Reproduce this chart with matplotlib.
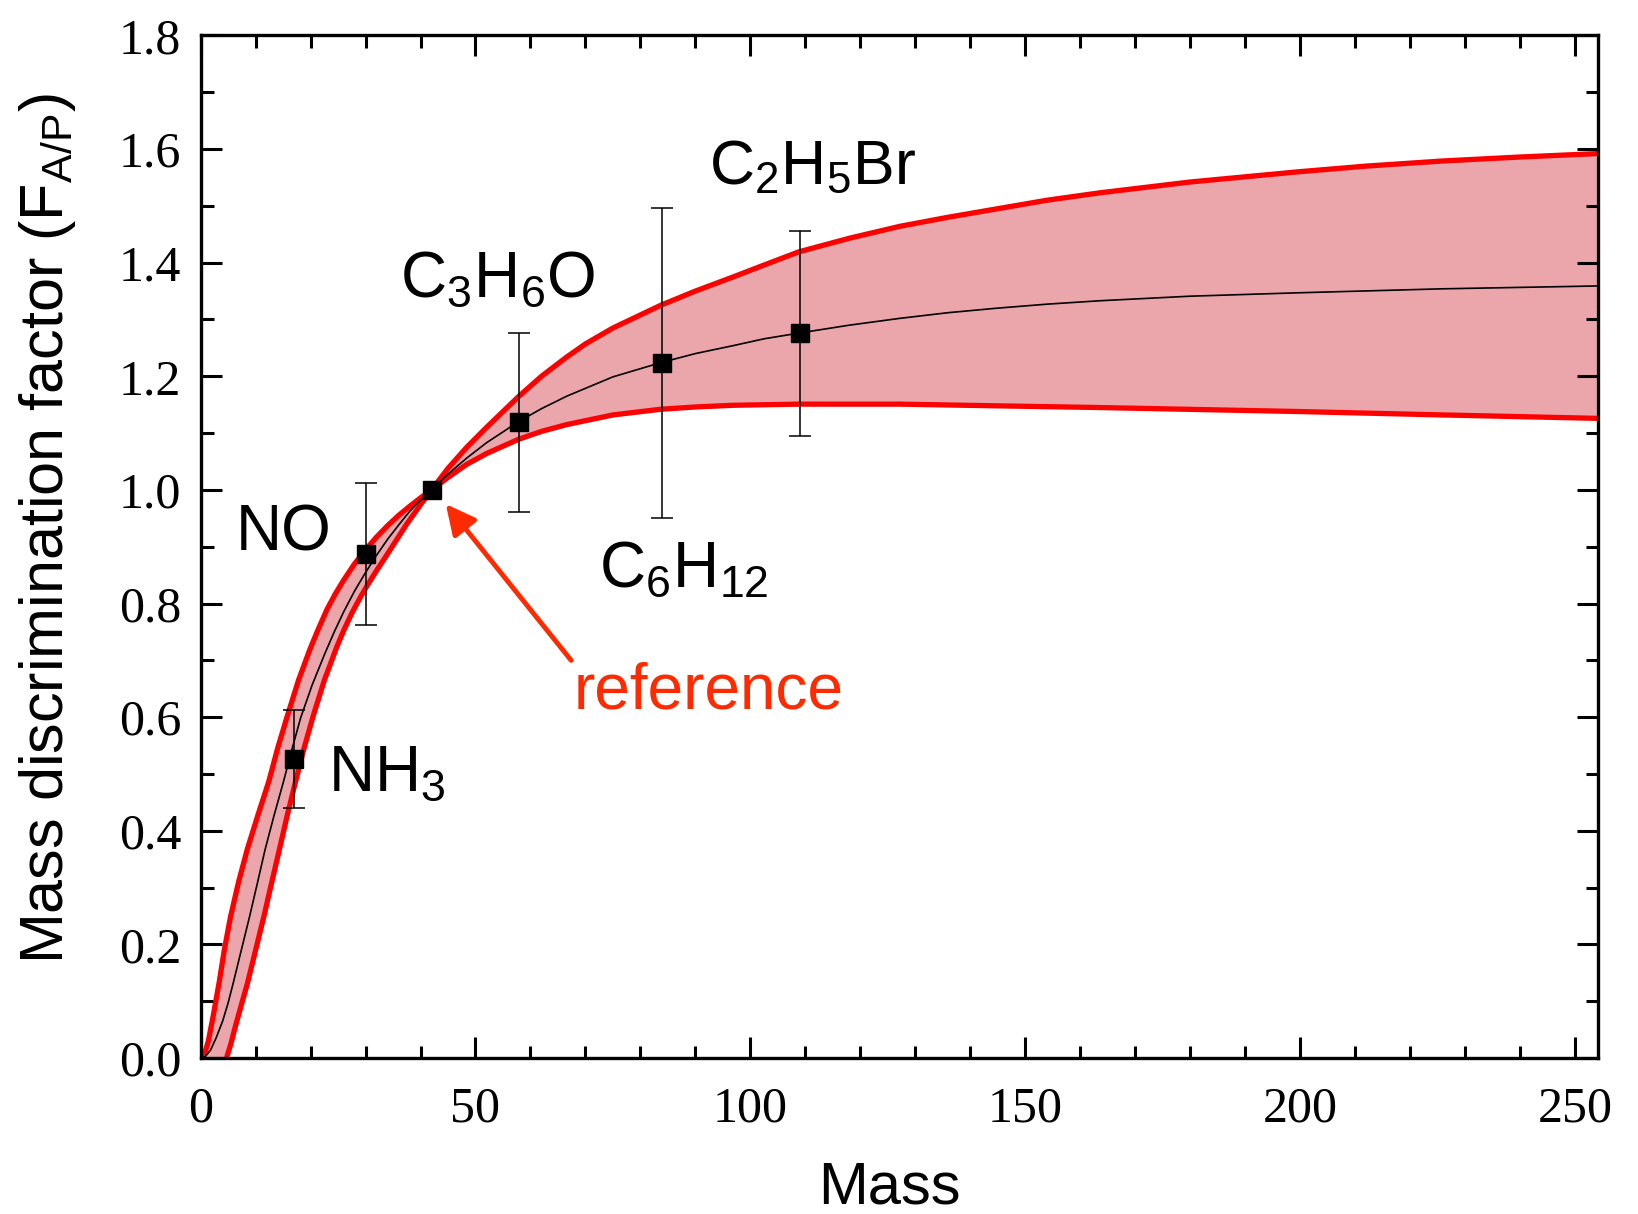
import numpy as np
import matplotlib
matplotlib.use("Agg")
import matplotlib.pyplot as plt
from matplotlib.ticker import MultipleLocator, FormatStrFormatter

plt.rcParams['mathtext.fontset'] = 'custom'
plt.rcParams['mathtext.rm'] = 'Liberation Sans'
plt.rcParams['mathtext.it'] = 'Liberation Sans'
plt.rcParams['mathtext.bf'] = 'Liberation Sans'

# measured molecules
names = ['NH$_3$', 'NO', 'C$_3$H$_6$O', 'C$_6$H$_{12}$', 'C$_2$H$_5$Br']
mass = [17, 30, 58, 84, 109]
factor = [0.526, 0.887, 1.120, 1.224, 1.276]
err_low = [0.086, 0.124, 0.158, 0.274, 0.181]
err_high = [0.087, 0.126, 0.157, 0.273, 0.180]

ref_mass = 42
ref_factor = 1.0

# fitted curve
fit_m = [0, 0.8, 1.8, 2.8, 4, 5, 5.9, 7.4, 8.9, 10.3, 11.7, 13.3, 15.0, 16.6, 18.2,
         20.3, 22.6, 24.3, 26, 28, 29.9, 32, 34, 36, 38, 40, 42, 45, 48.4, 52, 57.8,
         62, 66.6, 75, 83.7, 90, 96.9, 102.5, 108.8, 118, 127.2, 136, 145, 154,
         163.6, 180, 199.7, 225.9, 254]
fit_v = [0, 0.002, 0.014, 0.035, 0.065, 0.097, 0.131, 0.19, 0.249, 0.307, 0.366,
         0.425, 0.484, 0.543, 0.599, 0.657, 0.712, 0.75, 0.785, 0.822, 0.853, 0.885,
         0.913, 0.938, 0.962, 0.982, 1.0, 1.028, 1.056, 1.083, 1.12, 1.143, 1.165,
         1.199, 1.224, 1.240, 1.254, 1.266, 1.276, 1.290, 1.302, 1.312, 1.320, 1.327,
         1.333, 1.341, 1.347, 1.354, 1.359]

# band edge that saturates early
band_a_m = [0.3, 0.8, 1.4, 2.3, 3.4, 4.3, 5.4, 6.9, 8.5, 10.4, 12.4, 14.0, 15.7,
            17.8, 19.9, 21.4, 23, 24.5, 26, 28, 30.2, 32, 34, 36, 38, 40, 42, 45,
            48.4, 52, 57.8, 62, 66.6, 75, 83.7, 90, 96.9, 108.8, 127.2, 145, 163.6,
            199.7, 225.9, 254]
band_a_v = [0.0, 0.01, 0.03, 0.075, 0.135, 0.19, 0.247, 0.31, 0.368, 0.427, 0.487,
            0.545, 0.60, 0.665, 0.72, 0.755, 0.79, 0.817, 0.841, 0.87, 0.897, 0.917,
            0.937, 0.955, 0.971, 0.986, 1.0, 1.022, 1.045, 1.064, 1.089, 1.103, 1.115,
            1.132, 1.142, 1.146, 1.149, 1.151, 1.151, 1.148, 1.145, 1.138, 1.132, 1.126]

# band edge that keeps rising
band_b_m = [4.7, 5.5, 6.3, 7.3, 8.5, 10, 11.5, 12.9, 14.3, 15.7, 17.2, 18.8, 20.5,
            22.5, 24.7, 26, 27.5, 29, 30.2, 32, 33.5, 35.5, 37.5, 40, 42, 45, 48.4,
            52, 57.8, 62, 66.6, 70, 75, 83.7, 90, 96.9, 102, 108.8, 118, 127.2, 136,
            145, 154, 163.6, 180, 199.7, 212, 225.9, 240, 254]
band_b_v = [0.0, 0.025, 0.055, 0.09, 0.131, 0.19, 0.249, 0.308, 0.366, 0.425, 0.484,
            0.545, 0.603, 0.665, 0.722, 0.752, 0.783, 0.81, 0.83, 0.858, 0.88, 0.91,
            0.94, 0.974, 1.0, 1.038, 1.075, 1.11, 1.164, 1.20, 1.234, 1.257, 1.285,
            1.325, 1.35, 1.375, 1.394, 1.419, 1.443, 1.464, 1.480, 1.495, 1.510,
            1.523, 1.542, 1.560, 1.570, 1.579, 1.586, 1.592]

fig = plt.figure(figsize=(16.38, 12.14), dpi=100)
ax = fig.add_axes([0.1225, 0.1285, 0.853, 0.8423])

poly_m = np.concatenate([band_a_m, band_b_m[::-1]])
poly_v = np.concatenate([band_a_v, band_b_v[::-1]])
ax.fill(poly_m, poly_v, color='#EBA6AB', lw=0, zorder=1)
ax.plot(band_a_m, band_a_v, color='#FF0000', lw=3.8, zorder=2, solid_joinstyle='round')
ax.plot(band_b_m, band_b_v, color='#FF0000', lw=3.8, zorder=2, solid_joinstyle='round')
ax.plot(fit_m, fit_v, color='black', lw=1.2, zorder=3)

ax.errorbar(mass, factor, yerr=[err_low, err_high], fmt='none', ecolor='black',
            elinewidth=1.1, capsize=8, capthick=1.1, zorder=4)
ax.plot(mass + [ref_mass], factor + [ref_factor], 's', color='black', ms=13, zorder=5)

lab_font = dict(family='Liberation Sans', fontsize=46)
ax.text(23.2, 0.50, names[0], va='center', ha='left', **lab_font)
ax.text(6.4, 0.924, names[1], va='center', ha='left', **lab_font)
ax.text(36.3, 1.37, names[2], va='center', ha='left', **lab_font)
ax.text(72.4, 0.86, names[3], va='center', ha='left', **lab_font)
ax.text(92.5, 1.568, names[4], va='center', ha='left', fontsize=45, family='Liberation Sans')

ax.annotate('', xy=(44.6, 0.975), xytext=(67.4, 0.70),
            arrowprops=dict(arrowstyle='-|>', color='#FF2A00', lw=3.5,
                            mutation_scale=45, shrinkA=0, shrinkB=0))
ax.text(67.8, 0.645, 'reference', color='#FF2A00', va='center', ha='left', **lab_font)

ax.set_xlim(0, 254.2)
ax.set_ylim(0, 1.8)
ax.xaxis.set_major_locator(MultipleLocator(50))
ax.xaxis.set_minor_locator(MultipleLocator(10))
ax.yaxis.set_major_locator(MultipleLocator(0.2))
ax.yaxis.set_minor_locator(MultipleLocator(0.1))
ax.yaxis.set_major_formatter(FormatStrFormatter('%.1f'))

ax.tick_params(which='both', direction='in', top=True, right=True, width=2.2)
ax.tick_params(which='major', length=15)
ax.tick_params(which='minor', length=9)
ax.tick_params(axis='x', which='major', pad=20)
ax.tick_params(axis='y', which='major', pad=14)
for lbl in ax.get_xticklabels() + ax.get_yticklabels():
    lbl.set_fontfamily('Liberation Serif')
    lbl.set_fontsize(36)
for sp in ax.spines.values():
    sp.set_linewidth(2.4)

ax.set_xlabel('Mass', family='Liberation Sans', fontsize=43)
ax.set_ylabel('Mass discrimination factor (F$_{A/P}$)', family='Liberation Sans', fontsize=44)
ax.xaxis.set_label_coords(0.493, -0.1)
ax.yaxis.set_label_coords(-0.088, 0.518)

fig.savefig('out.png', dpi=100)
